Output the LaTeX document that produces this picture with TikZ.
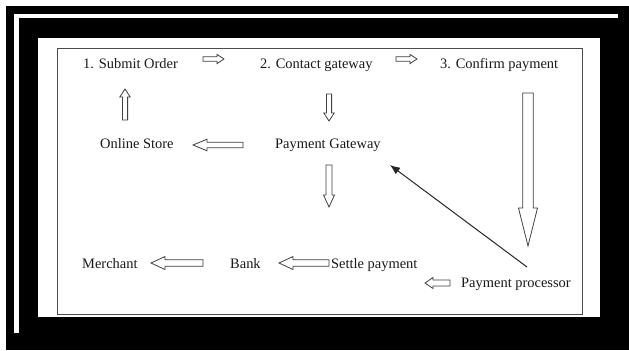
\documentclass[tikz,border=0pt]{standalone}
\usepackage{fontspec}
\setmainfont{Liberation Serif}
\usetikzlibrary{arrows.meta}
\tikzset{
  lbl/.style={font=\fontsize{14.5}{17}\selectfont, inner sep=0pt, anchor=base west, text=black!90},
  hollow/.style={draw=black!75, line width=0.8bp, fill=white, line join=miter},
  frameline/.style={draw=black!70, line width=1bp},
  pointer/.style={draw=black!85, line width=1bp, -{Latex[length=10bp,width=8bp]}}
}
% #1,#2 tail; #3 angle; #4 length; #5 half shaft; #6 half head; #7 head length
\newcommand\hollowarr[7]{%
  \begin{scope}[shift={(#1,#2)}, rotate=#3]
    \draw[hollow] (0,-#5) -- (#4-#7,-#5) -- (#4-#7,-#6) -- (#4,0) -- (#4-#7,#6) -- (#4-#7,#5) -- (0,#5) -- cycle;
  \end{scope}}
\begin{document}
\begin{tikzpicture}[x=1bp,y=-1bp]
\useasboundingbox (0,0) rectangle (629,350);
% frame
\fill[white] (0,0) rectangle (629,350);
\fill[black] (6,6) rectangle (629,350);
\fill[white] (14,14) rectangle (618,18);
\fill[white] (14,14) rectangle (19,333);
\fill[white] (38,38) rectangle (600,317);
\draw[frameline] (57,48) rectangle (582,314);
% labels
\node[lbl] (submit) at (83,68) {1. Submit Order};
\node[lbl] (contact) at (260,68) {2. Contact gateway};
\node[lbl] (confirm) at (440,68) {3. Confirm payment};
\node[lbl] (store) at (100,148) {Online Store};
\node[lbl] (gateway) at (275,148) {Payment Gateway};
\node[lbl] (merchant) at (82,268) {Merchant};
\node[lbl] (bank) at (230,268) {Bank};
\node[lbl] (settle) at (331,268) {Settle payment};
\node[lbl] (processor) at (461,287) {Payment processor};
% hollow arrows
\hollowarr{203}{59}{0}{21}{2.2}{4.6}{7}
\hollowarr{396}{59}{0}{21}{2.2}{4.6}{7}
\hollowarr{125}{120}{90}{31}{2.6}{5.2}{8}
\hollowarr{329}{94}{-90}{27}{2.6}{5.2}{8}
\hollowarr{243}{145}{180}{50}{2.8}{5.8}{14}
\hollowarr{329}{165}{-90}{42}{3}{5.5}{12}
\hollowarr{528}{93}{-90}{153}{5.3}{9.5}{38}
\hollowarr{203}{263}{180}{52}{3.3}{6.5}{14}
\hollowarr{329}{263}{180}{50}{3.3}{6.5}{14}
\hollowarr{450}{283}{180}{25}{3}{5.5}{8}
% diagonal pointer
\coordinate (pstart) at (527,267);
\coordinate (pend) at (390,165);
\draw[pointer] (pstart) -- (pend);
\end{tikzpicture}
\end{document}
